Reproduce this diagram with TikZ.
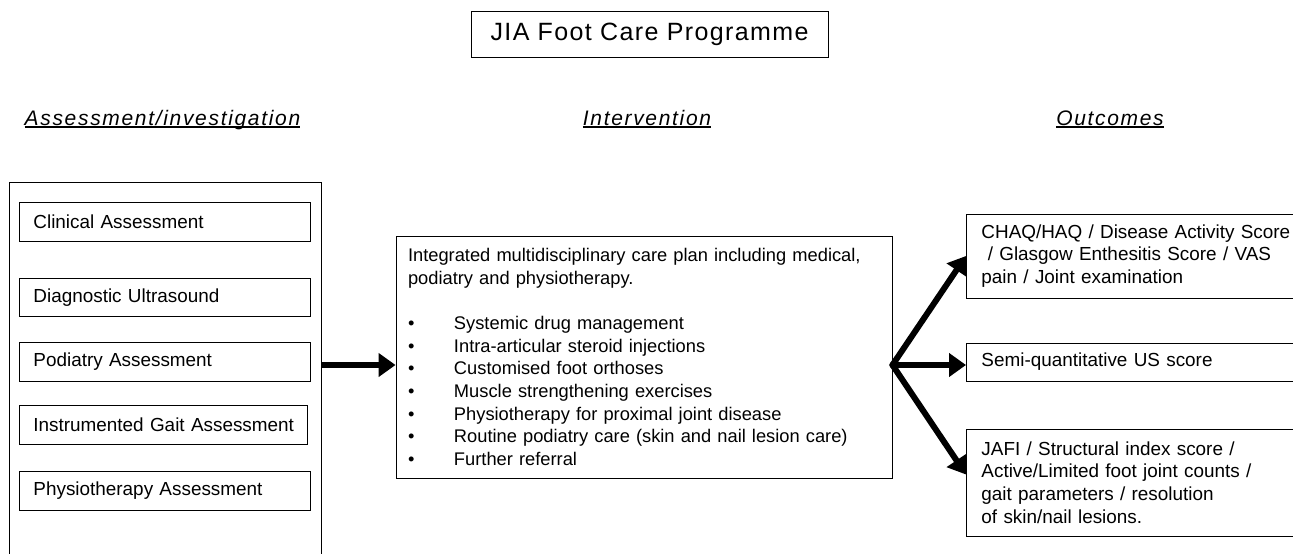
\documentclass[tikz,border=0pt]{standalone}
\usepackage{fontspec}
\setmainfont{Liberation Sans}
\newfontfamily\titlefont[LetterSpace=5.5]{Liberation Sans}
\newfontfamily\headfont[LetterSpace=8]{Liberation Sans}
\usetikzlibrary{arrows.meta,positioning}
\newcommand\headline[1]{\setbox0\hbox{#1}\rlap{\rule[-2.6pt]{\wd0}{1.4pt}}\box0}

\begin{document}
\begin{tikzpicture}[x=1pt, y=-1pt,
   >={Triangle[length=17pt,width=23pt]},
   font=\fontsize{18.9pt}{22.6pt}\selectfont,
   box/.style={draw, line width=0.9pt, inner sep=0pt},
   item/.style={box, anchor=west, minimum width=291pt, minimum height=38.5pt,
                inner xsep=14pt, text width=263pt, align=left},
   outbox/.style={box, anchor=west, minimum width=440pt, inner xsep=15pt,
                  text width=410pt, align=left},
   head/.style={anchor=base, font=\fontsize{21pt}{25pt}\headfont\itshape},
   thick arrow/.style={->, line width=6pt}]
  \useasboundingbox (0,0) rectangle (1293,554);
  \clip (0,0) rectangle (1293,554);
  % title and column headings
  \node[box, minimum width=357pt, minimum height=46pt,
        font=\fontsize{25pt}{30pt}\titlefont] (title) at (649.5,34) {JIA Foot Care Programme};
  \node[head] (hassess) at (162.5,125) {\headline{Assessment/investigation}};
  \node[head] (hinter)  at (647,125)   {\headline{Intervention}};
  \node[head] (hout)    at (1110,125)  {\headline{Outcomes}};
  % assessment column
  \node[box, anchor=north west, minimum width=312pt, minimum height=420pt] (assess) at (9,182) {};
  \node[item] (clin)  at (19,222)   {Clinical Assessment};
  \node[item] (diag)  at (19,297.5) {Diagnostic Ultrasound};
  \node[item] (pod)   at (19,362)   {Podiatry Assessment};
  \node[item, minimum width=288pt, text width=260pt] (gait) at (19,425) {\mbox{Instrumented Gait Assessment}};
  \node[item] (physio) at (19,491)  {Physiotherapy Assessment};
  % intervention
  \node[box, minimum width=496pt, minimum height=242pt, inner xsep=12pt,
        text width=472pt, align=left, font=\fontsize{18.3pt}{22.6pt}\selectfont] (plan) at (644,357)
    {Integrated multidisciplinary care plan including medical,\\
     podiatry and physiotherapy.\\[22.6pt]
     \makebox[46pt][l]{\textbullet}Systemic drug management\\
     \makebox[46pt][l]{\textbullet}Intra-articular steroid injections\\
     \makebox[46pt][l]{\textbullet}Customised foot orthoses\\
     \makebox[46pt][l]{\textbullet}Muscle strengthening exercises\\
     \makebox[46pt][l]{\textbullet}Physiotherapy for proximal joint disease\\
     \makebox[46pt][l]{\textbullet}Routine podiatry care (skin and nail lesion care)\\
     \makebox[46pt][l]{\textbullet}Further referral};
  % outcomes
  \node[outbox, minimum height=84pt] (chaq) at (966,256)
    {CHAQ/HAQ / Disease Activity Score\\
     \mbox{}\ / Glasgow Enthesitis Score / VAS\\
     pain / Joint examination};
  \node[outbox, minimum height=38pt] (semi) at (966,362) {Semi-quantitative US score};
  \node[outbox, minimum height=107pt] (jafi) at (966,482.5)
    {JAFI / Structural index score /\\
     Active/Limited foot joint counts /\\
     gait parameters / resolution\\
     of skin/nail lesions.};
  % arrows
  \coordinate (fork) at ([yshift=-8pt]plan.east);
  \draw[thick arrow] (assess.east |- fork) -- (plan.west |- fork);
  \draw[thick arrow, line cap=round] (fork) -- (chaq.west);
  \draw[thick arrow, line cap=round] (fork) -- (semi.west |- fork);
  \draw[thick arrow, line cap=round] (fork) -- ([yshift=8pt]jafi.west);
\end{tikzpicture}
\end{document}
